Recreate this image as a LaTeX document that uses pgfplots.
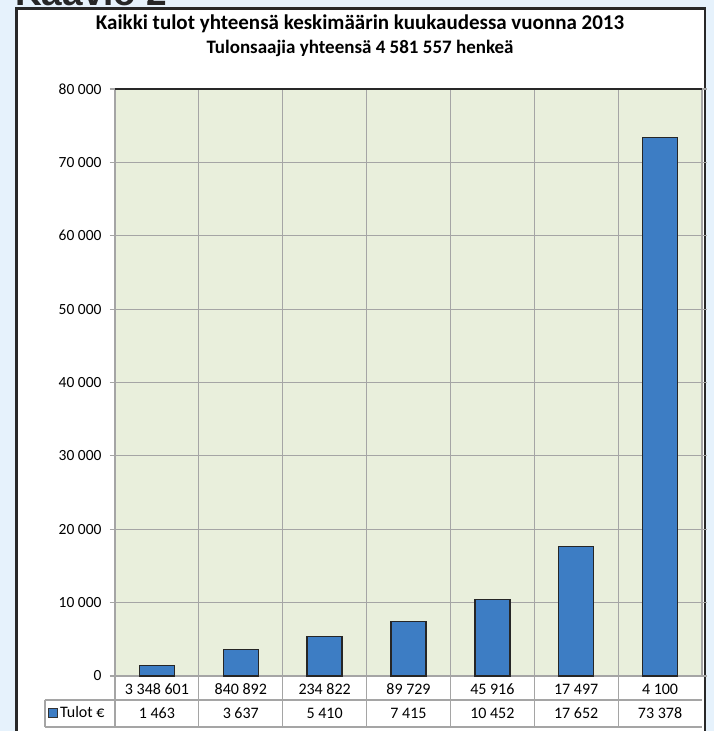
\documentclass[border=0pt]{standalone}
\usepackage{fontspec}
\setmainfont{Carlito}
\newfontfamily\lib{Liberation Sans}
\usepackage{pgfplots}
\pgfplotsset{compat=1.18}
\usetikzlibrary{backgrounds}
\definecolor{outerbg}{RGB}{230,242,252}
\definecolor{plotbg}{RGB}{233,239,220}
\definecolor{barblue}{RGB}{61,125,196}
\definecolor{gridc}{RGB}{165,165,165}
\definecolor{boxborder}{RGB}{40,40,40}
\begin{document}
\begin{tikzpicture}
\begin{axis}[
  name=ax, at={(0,0)}, anchor=south west,
  scale only axis, width=587pt, height=587pt,
  xmin=-0.5, xmax=6.5, ymin=0, ymax=80000,
  axis background/.style={fill=plotbg},
  axis line style={gridc, line width=1.2pt},
  ytick={0,10000,...,80000},
  ymajorgrids, major grid style={gridc, line width=1.2pt},
  minor xtick={0.5,1.5,...,5.5}, xminorgrids, minor grid style={gridc, line width=1.2pt},
  minor tick length=0pt,
  tick align=outside, major tick length=5pt,
  tick style={gridc, line width=1.2pt},
  xtick style={draw=none},
  scaled y ticks=false,
  /pgf/number format/.cd, 1000 sep={\ }, assume math mode=true, /pgfplots/.cd,
  yticklabel style={font=\fontsize{15.5}{15.5}\selectfont, xshift=-5pt},
  xtick={0,...,6},
  xticklabels={3 348 601, 840 892, 234 822, 89 729, 45 916, 17 497, 4 100},
  xticklabel style={font=\fontsize{16}{16}\selectfont, anchor=base, yshift=-13pt},
  extra x ticks={0,...,6},
  extra x tick labels={1 463, 3 637, 5 410, 7 415, 10 452, 17 652, 73 378},
  extra x tick style={grid=none, tick label style={yshift=-24pt}},
  legend style={at={(-0.114,-0.063)}, anchor=west, draw=none, fill=none, inner sep=0pt,
    font=\fontsize{16}{16}\selectfont},
  legend image code/.code={\draw[fill=barblue, draw=black!80, line width=0.8pt] (0pt,-4.5pt) rectangle (9pt,4.5pt);},
  clip=false,
]
\addplot[ybar, bar width=35pt, fill=barblue, draw=black!85, line width=1.3pt]
  coordinates {(0,1463) (1,3637) (2,5410) (3,7415) (4,10452) (5,17652) (6,73378)};
\addlegendentry{Tulot €}
\draw[boxborder, line width=2pt] (rel axis cs:0,1) -- (rel axis cs:1,1);
\end{axis}
\pgfresetboundingbox
\begin{scope}[shift={(ax.south west)}, shift={(-115pt,-55pt)}, x=1pt, y=1pt]
\useasboundingbox (0,0) rectangle (714,731);
\draw[gridc, line width=1.2pt] (45,31) -- (702,31);
\draw[gridc, line width=1.2pt] (45,4) -- (702,4);
\draw[gridc, line width=1.2pt] (45,4) -- (45,31);
\foreach \i in {0,...,6} {\draw[gridc, line width=1.2pt] ({115+83.857*\i},4) -- ({115+83.857*\i},55);}
\end{scope}
\begin{pgfonlayer}{background}
\begin{scope}[shift={(ax.south west)}, shift={(-115pt,-55pt)}, x=1pt, y=1pt]
\clip (0,0) rectangle (714,731);
\fill[outerbg] (0,0) rectangle (714,731);
\node[anchor=base west, inner sep=0pt, font=\lib\bfseries\fontsize{37}{37}\selectfont, text=black!85] at (15,725) {Kaavio 2};
\filldraw[fill=white, draw=boxborder, line width=2.5pt] (16.5,-10) rectangle (705,722.5);
\node[font=\bfseries\fontsize{21}{24}\selectfont] at (360,707) {Kaikki tulot yhteensä keskimäärin kuukaudessa vuonna 2013};
\node[font=\bfseries\fontsize{19}{22}\selectfont] at (360,683) {Tulonsaajia yhteensä 4 581 557 henkeä};
\end{scope}
\end{pgfonlayer}
\end{tikzpicture}
\end{document}
